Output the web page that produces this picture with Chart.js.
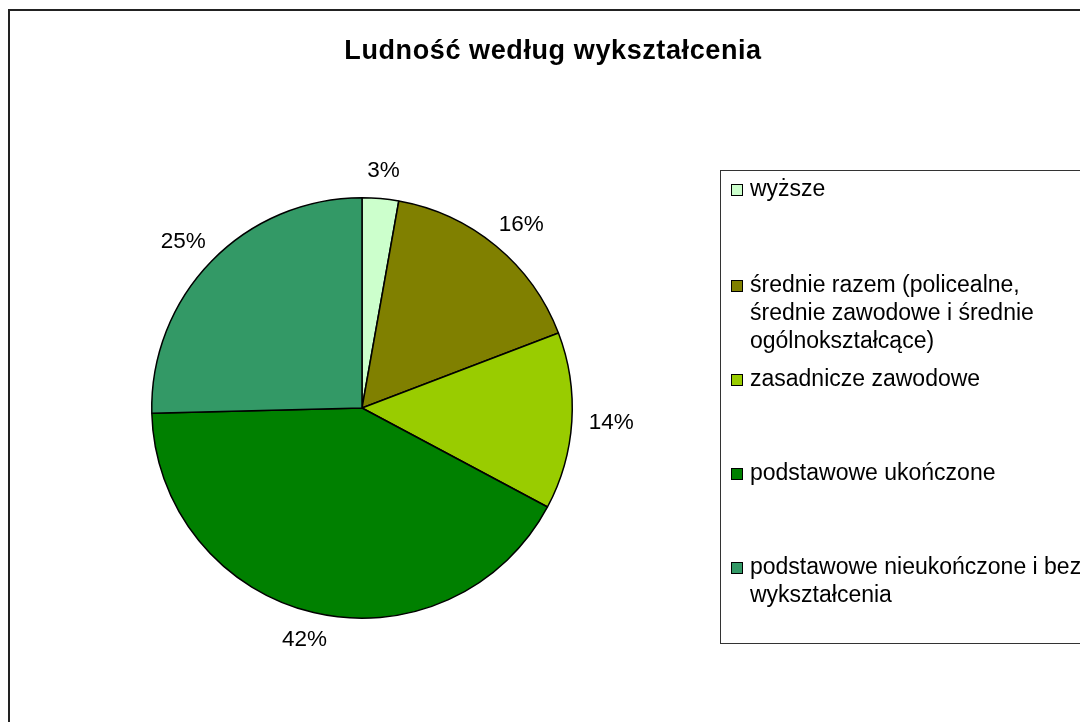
<!DOCTYPE html>
<html>
<head>
<meta charset="utf-8">
<script src="https://cdn.jsdelivr.net/npm/chart.js@4/dist/chart.umd.min.js"></script>
<style>
  html, body { margin: 0; padding: 0; background: #fff; }
  canvas { display: block; }
</style>
</head>
<body>
<canvas id="pieChart" width="1080" height="722"></canvas>
<script>
// Education categories (legend lines wrapped like the original)
const categories = [
    ['wyższe'],
    ['średnie razem (policealne,', 'średnie zawodowe i średnie', 'ogólnokształcące)'],
    ['zasadnicze zawodowe'],
    ['podstawowe ukończone'],
    ['podstawowe nieukończone i bez', 'wykształcenia']
];
const shares = [2.8, 16.4, 13.6, 41.8, 25.4];
const colors = ['#CCFFCC', '#808000', '#99CC00', '#008000', '#339966'];
const legendRows = [190, 286, 380, 474, 568];
const chartTitle = 'Ludność według wykształcenia';

const FONT = '"Liberation Sans", Arial, sans-serif';

// frame and title
const framePlugin = {
    id: 'frame',
    beforeDraw(chart) {
        const ctx = chart.ctx;
        ctx.save();
        ctx.strokeStyle = '#222';
        ctx.lineWidth = 2;
        ctx.strokeRect(9, 10, 1100, 740);
        ctx.font = 'bold 27px ' + FONT;
        ctx.letterSpacing = '0.6px';
        ctx.fillStyle = '#000';
        ctx.textAlign = 'center';
        ctx.textBaseline = 'middle';
        ctx.fillText(chartTitle, 553, 52);
        ctx.restore();
    }
};

// percentage labels outside each slice
const outsideLabels = {
    id: 'outsideLabels',
    afterDatasetsDraw(chart) {
        const ctx = chart.ctx;
        const meta = chart.getDatasetMeta(0);
        const total = shares.reduce((a, b) => a + b, 0);
        ctx.save();
        ctx.font = '22.5px ' + FONT;
        ctx.fillStyle = '#000';
        ctx.textAlign = 'center';
        ctx.textBaseline = 'middle';
        meta.data.forEach((arc, i) => {
            const txt = Math.round(shares[i] / total * 100) + '%';
            const w = ctx.measureText(txt).width;
            const h = 22;
            const mid = (arc.startAngle + arc.endAngle) / 2;
            const r = arc.outerRadius + 17;
            const x = arc.x + Math.cos(mid) * r + Math.cos(mid) * w / 2;
            const y = arc.y + Math.sin(mid) * r + Math.sin(mid) * h / 2;
            ctx.fillText(txt, x, y);
        });
        ctx.restore();
    }
};

// boxed legend on the right
const boxLegend = {
    id: 'boxLegend',
    afterDraw(chart) {
        const ctx = chart.ctx;
        ctx.save();
        ctx.strokeStyle = '#333';
        ctx.lineWidth = 1;
        ctx.strokeRect(720.5, 170.5, 500, 473);
        ctx.font = '23px ' + FONT;
        ctx.textBaseline = 'middle';
        ctx.textAlign = 'left';
        categories.forEach((lines, i) => {
            const y = legendRows[i];
            ctx.fillStyle = colors[i];
            ctx.fillRect(731, y - 6, 12, 12);
            ctx.strokeStyle = '#000';
            ctx.strokeRect(731.5, y - 5.5, 11, 11);
            ctx.fillStyle = '#000';
            lines.forEach((line, j) => {
                ctx.fillText(line, 750, y + j * 28);
            });
        });
        ctx.restore();
    }
};

const ctx = document.getElementById('pieChart').getContext('2d');
new Chart(ctx, {
    type: 'pie',
    data: {
        labels: categories.map(l => l.join(' ')),
        datasets: [{
            data: shares,
            backgroundColor: colors,
            borderColor: '#000',
            borderWidth: 1.5
        }]
    },
    options: {
        responsive: false,
        animation: false,
        layout: {
            padding: { left: 151, right: 507, top: 197, bottom: 103 }
        },
        plugins: {
            legend: { display: false },
            tooltip: { enabled: false },
            title: { display: false }
        }
    },
    plugins: [framePlugin, outsideLabels, boxLegend]
});
</script>
</body>
</html>
